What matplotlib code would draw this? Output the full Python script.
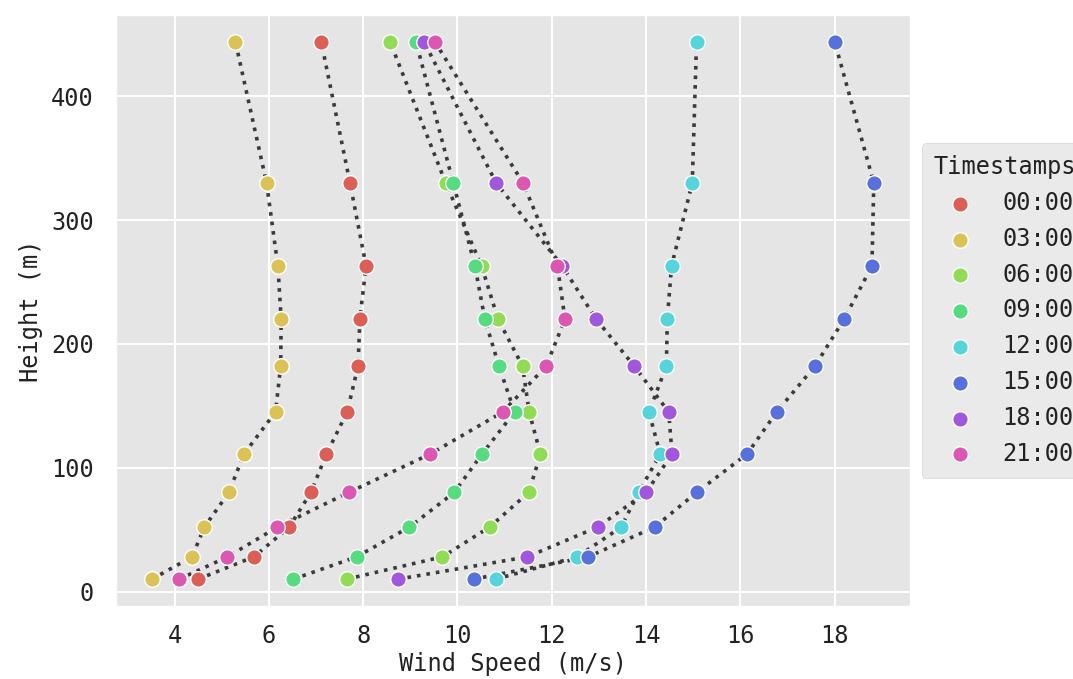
import matplotlib
matplotlib.use("Agg")
import matplotlib.pyplot as plt
import seaborn as sns

heights = [10, 28, 52, 80, 111, 145, 182, 220, 263, 330, 444]
timestamps = ["00:00", "03:00", "06:00", "09:00", "12:00", "15:00", "18:00", "21:00"]

ws_0000 = [4.50, 5.68, 6.43, 6.89, 7.22, 7.66, 7.89, 7.93, 8.06, 7.72, 7.11]
ws_0300 = [3.52, 4.37, 4.63, 5.15, 5.47, 6.14, 6.25, 6.26, 6.19, 5.95, 5.29]
ws_0600 = [7.65, 9.68, 10.68, 11.51, 11.76, 11.52, 11.38, 10.86, 10.51, 9.75, 8.57]
ws_0900 = [6.52, 7.86, 8.98, 9.93, 10.52, 11.21, 10.88, 10.58, 10.37, 9.91, 9.12]
ws_1200 = [10.81, 12.54, 13.47, 13.84, 14.30, 14.06, 14.43, 14.45, 14.54, 14.98, 15.07]
ws_1500 = [10.34, 12.77, 14.18, 15.07, 16.14, 16.77, 17.58, 18.20, 18.79, 18.83, 18.00]
ws_1800 = [8.74, 11.48, 12.97, 14.00, 14.55, 14.48, 13.75, 12.94, 12.22, 10.82, 9.29]
ws_2100 = [4.10, 5.12, 6.18, 7.69, 9.42, 10.96, 11.88, 12.28, 12.12, 11.39, 9.52]

series = [ws_0000, ws_0300, ws_0600, ws_0900, ws_1200, ws_1500, ws_1800, ws_2100]

plt.style.use("ggplot")
plt.rcParams["font.family"] = ["DejaVu Sans Mono"]
plt.rcParams["axes.edgecolor"] = "white"

colors = sns.color_palette("hls", 8)

fig = plt.figure(figsize=(10.73, 6.79), dpi=100)
ax = fig.add_axes([0.108, 0.1075, 0.740, 0.8705])
ax.set_facecolor("#E5E5E5")

for ws, ts, c in zip(series, timestamps, colors):
    ax.plot(ws, heights, linestyle=":", color="#3a3a3a", linewidth=2.6, zorder=2)
for ws, ts, c in zip(series, timestamps, colors):
    ax.scatter(ws, heights, s=125, color=c, edgecolor="white", linewidth=1.0,
               zorder=3, label=ts)

ax.set_xticks([4, 6, 8, 10, 12, 14, 16, 18])
ax.set_yticks([0, 100, 200, 300, 400])
ax.tick_params(axis="x", labelsize=17, length=0, pad=13)
ax.tick_params(axis="y", labelsize=17, length=0, pad=16)
for lab in ax.get_xticklabels() + ax.get_yticklabels():
    lab.set_color("#222222")
ax.set_xlabel("Wind Speed (m/s)", fontsize=17, color="#222222", labelpad=3)
ax.set_ylabel("Height (m)", fontsize=17, color="#222222", labelpad=6)
ax.grid(True, color="white", linewidth=1.4)

leg = ax.legend(title="Timestamps", loc="center left", bbox_to_anchor=(1.0, 0.5),
                fontsize=17, title_fontsize=17, frameon=True, facecolor="#E5E5E5",
                edgecolor="#cccccc", labelspacing=0.5, handletextpad=0.8,
                borderpad=0.5, markerscale=1.0)
for t in leg.get_texts():
    t.set_color("#222222")
leg.get_title().set_color("#222222")

fig.savefig("out.png", dpi=100)
